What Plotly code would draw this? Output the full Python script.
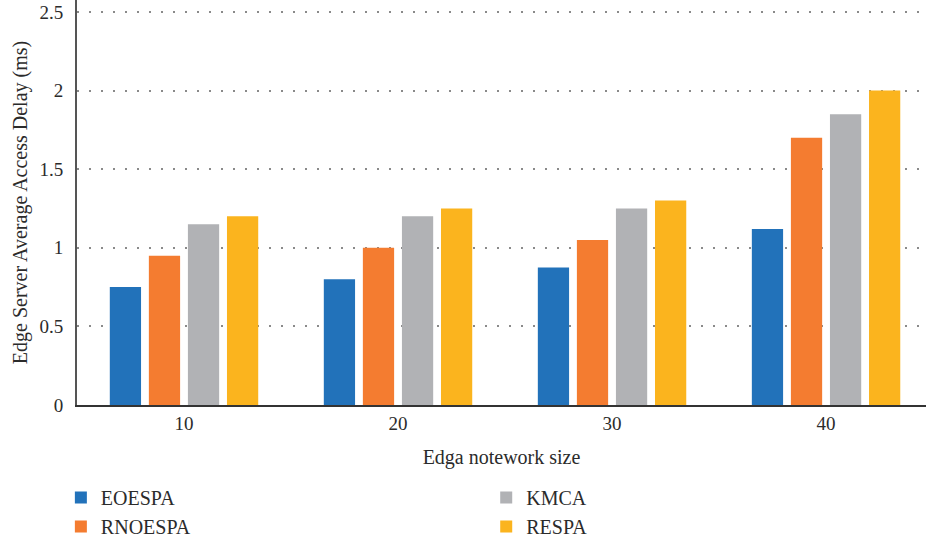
import plotly.graph_objects as go

categories = ["10", "20", "30", "40"]
eoespa = [0.75, 0.80, 0.875, 1.12]
rnoespa = [0.95, 1.00, 1.05, 1.70]
kmca = [1.15, 1.20, 1.25, 1.85]
respa = [1.20, 1.25, 1.30, 2.00]

series = [
    ("EOESPA", eoespa, "#2272BA", "legend", 1),
    ("RNOESPA", rnoespa, "#F47C30", "legend", 2),
    ("KMCA", kmca, "#B1B2B5", "legend2", 1),
    ("RESPA", respa, "#FBB41E", "legend2", 2),
]

font_family = "Liberation Serif, DejaVu Serif, serif"
txt = "#2b2b2b"

fig = go.Figure()
for name, vals, color, leg, rank in series:
    fig.add_trace(go.Bar(
        x=categories, y=vals, name=name,
        marker=dict(color=color, line=dict(width=0)),
        legend=leg, legendrank=rank,
    ))

fig.update_layout(
    width=926, height=542,
    margin=dict(l=77, r=0, t=0, b=137, autoexpand=False),
    paper_bgcolor="white", plot_bgcolor="white",
    font=dict(family=font_family, size=19, color=txt),
    barmode="group", bargap=0.27, bargroupgap=0.2,
    showlegend=True,
    legend=dict(x=-0.019, xref="paper", y=0.118, yref="container", yanchor="top", xanchor="left",
                orientation="v", font=dict(size=20, family=font_family, color=txt),
                bgcolor="rgba(0,0,0,0)", itemwidth=30, tracegroupgap=0),
    legend2=dict(x=0.482, xref="paper", y=0.118, yref="container", yanchor="top", xanchor="left",
                 orientation="v", font=dict(size=20, family=font_family, color=txt),
                 bgcolor="rgba(0,0,0,0)", itemwidth=30, tracegroupgap=0),
)

fig.update_xaxes(
    type="category",
    range=[-0.5, 3.467],
    automargin=False,
    showline=True, linecolor="#333333", linewidth=2,
    showgrid=False, ticks="",
    ticklabelstandoff=0,
    tickfont=dict(size=19, family=font_family, color=txt),
    title=dict(text="Edga notework size", font=dict(size=20, family=font_family, color=txt), standoff=17),
)
fig.update_yaxes(
    range=[0, 2.576],
    automargin=False,
    tickvals=[0, 0.5, 1, 1.5, 2, 2.5],
    ticktext=["0", "0.5", "1", "1.5", "2", "2.5"],
    showline=True, linecolor="#555555", linewidth=2,
    showgrid=True, gridcolor="#8a8a8a", gridwidth=1.5, griddash="2px,10px",
    zeroline=False, ticks="",
    ticklabelstandoff=8,
    tickfont=dict(size=19, family=font_family, color=txt),
    title=dict(text="Edge Server Average Access Delay (ms)", font=dict(size=20, family=font_family, color=txt), standoff=6),
)

fig.write_html("out.html")
